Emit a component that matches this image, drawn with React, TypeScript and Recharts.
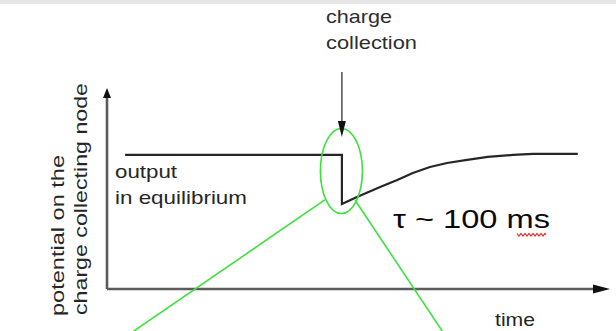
import { ComposedChart, Line, XAxis, YAxis, ReferenceLine, ReferenceDot } from 'recharts';

// Schematic: potential on the collecting node vs. time (arbitrary units 0..100)
const TIME = [3.6, 46.7, 46.7, 49.7, 54.3, 57.7, 60.8, 64.2, 67.6, 71.6, 75.7, 80.7, 84.7, 93.6];
const POTENTIAL = [66.7, 66.7, 42.3, 45.8, 50.7, 54.2, 57.7, 60.7, 62.7, 64.2, 65.7, 66.7, 67.2, 67.2];

// Annotation geometry in the same units
const COLLECTION_X = 46.7;
const ELLIPSE_CENTER = { x: 46.6, y: 58.7 };
const ZOOM_LEFT = [{ x: 43.3, y: 44.3 }, { x: 5.0, y: -21.5 }];
const ZOOM_RIGHT = [{ x: 49.3, y: 44.3 }, { x: 66.8, y: -21.5 }];

const data = TIME.map((t, i) => ({ t, v: POTENTIAL[i] }));

const W = 616;
const H = 331;
const FONT = '"Liberation Sans", Arial, sans-serif';
const AXIS = '#5c5c5c';
const GREEN = '#3ee03e';

const arrowRight = ({ cx, cy }: any) => (
  <path d={`M${cx},${cy} L${cx - 17},${cy - 4.5} L${cx - 17},${cy + 4.5} Z`} fill="#111" />
);
const arrowUp = ({ cx, cy }: any) => (
  <path d={`M${cx},${cy} L${cx - 4},${cy + 10} L${cx + 4},${cy + 10} Z`} fill="#111" />
);
const arrowDown = ({ cx, cy }: any) => (
  <path d={`M${cx},${cy} L${cx - 4},${cy - 16} L${cx + 4},${cy - 16} Z`} fill="#111" />
);
const ellipse = ({ cx, cy }: any) => (
  <ellipse cx={cx} cy={cy} rx={21} ry={42.5} fill="none" stroke={GREEN} strokeWidth={1.6} />
);

export default function App() {
  return (
    <div style={{ position: 'absolute', left: 0, top: 0, width: W, height: H, background: '#fff' }}>
      <div style={{ position: 'absolute', left: 0, top: 0, width: W, height: 4, background: '#e6e6e6' }} />
      <ComposedChart width={W} height={H} data={data} margin={{ top: 88, right: 6, bottom: 42, left: 107 }}>
        <XAxis dataKey="t" type="number" domain={[0, 100]} hide />
        <YAxis type="number" domain={[0, 100]} hide />

        {/* axes */}
        <ReferenceLine segment={[{ x: 0, y: 0 }, { x: 97, y: 0 }]} stroke={AXIS} strokeWidth={2.6} ifOverflow="visible" />
        <ReferenceLine segment={[{ x: 0, y: 0 }, { x: 0, y: 96 }]} stroke={AXIS} strokeWidth={2.6} ifOverflow="visible" />
        <ReferenceDot x={100} y={0} shape={arrowRight} ifOverflow="visible" />
        <ReferenceDot x={0} y={100} shape={arrowUp} ifOverflow="visible" />

        {/* zoom lines and ellipse */}
        <ReferenceLine segment={ZOOM_LEFT} stroke={GREEN} strokeWidth={1.6} ifOverflow="visible" />
        <ReferenceLine segment={ZOOM_RIGHT} stroke={GREEN} strokeWidth={1.6} ifOverflow="visible" />

        <Line
          dataKey="v"
          type="linear"
          stroke="#262626"
          strokeWidth={2.2}
          dot={false}
          activeDot={false}
          isAnimationActive={false}
        />

        <ReferenceDot x={ELLIPSE_CENTER.x} y={ELLIPSE_CENTER.y} shape={ellipse} ifOverflow="visible" />

        {/* charge collection arrow */}
        <ReferenceLine segment={[{ x: COLLECTION_X, y: 108 }, { x: COLLECTION_X, y: 82 }]} stroke="#333" strokeWidth={1.3} ifOverflow="visible" />
        <ReferenceDot x={COLLECTION_X} y={75.6} shape={arrowDown} ifOverflow="visible" />

        <g fontFamily={FONT}>
          <text x={326} y={23} fontSize={19} fill="#2e2e2e" textLength={66} lengthAdjust="spacingAndGlyphs">charge</text>
          <text x={326} y={49} fontSize={19} fill="#2e2e2e" textLength={91} lengthAdjust="spacingAndGlyphs">collection</text>
          <text x={115} y={178} fontSize={19} fill="#262626" textLength={62} lengthAdjust="spacingAndGlyphs">output</text>
          <text x={115} y={204} fontSize={19} fill="#262626" textLength={132} lengthAdjust="spacingAndGlyphs">in equilibrium</text>
          <text x={393} y={228} fontSize={25} fill="#0a0a0a" textLength={157} lengthAdjust="spacingAndGlyphs">τ ~ 100 ms</text>
          <text x={495} y={326} fontSize={19} fill="#262626" textLength={40} lengthAdjust="spacingAndGlyphs">time</text>
          <text transform="translate(64,316) rotate(-90)" fontSize={19} fill="#262626" textLength={161} lengthAdjust="spacingAndGlyphs">potential on the</text>
          <text transform="translate(87,315) rotate(-90)" fontSize={19} fill="#262626" textLength={232} lengthAdjust="spacingAndGlyphs">charge collecting node</text>
        </g>
        <path
          d="M517,233.5 l2,2.5 l2,-2.5 l2,2.5 l2,-2.5 l2,2.5 l2,-2.5 l2,2.5 l2,-2.5 l2,2.5 l2,-2.5 l2,2.5 l2,-2.5 l2,2.5 l2,-2.5 l1,1.2"
          fill="none"
          stroke="#e02828"
          strokeWidth={1.2}
        />
      </ComposedChart>
    </div>
  );
}
